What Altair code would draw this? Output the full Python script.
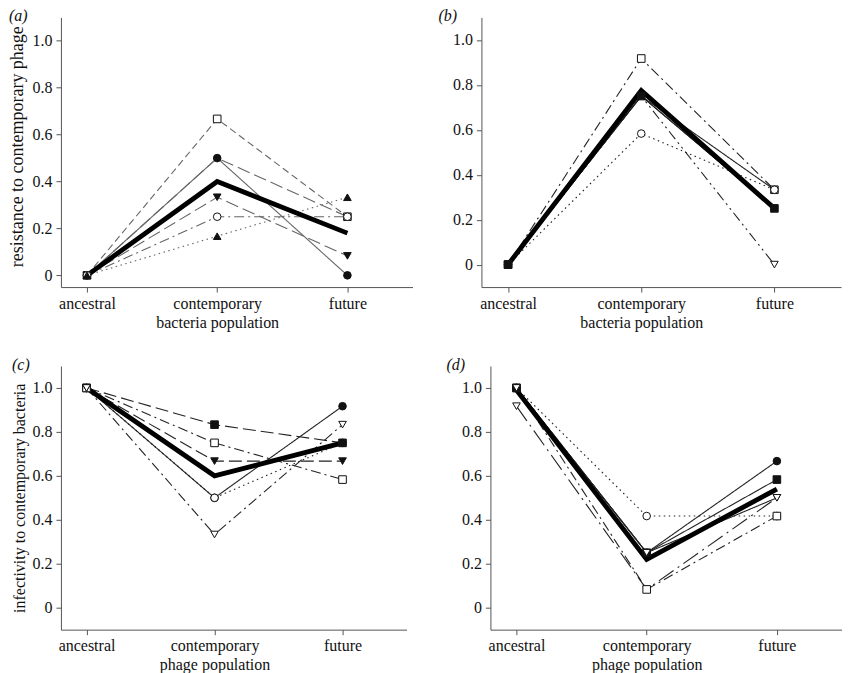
import json
import altair as alt
import pandas as pd

stages = ["ancestral", "contemporary", "future"]
y_ticks = [0, 0.2, 0.4, 0.6, 0.8, 1.0]

# (a) resistance of bacteria to contemporary phage
a_reps = [
    [0.0, 0.667, 0.25],
    [0.0, 0.5, 0.0],
    [0.0, 0.5, 0.25],
    [0.0, 0.333, 0.083],
    [0.0, 0.25, 0.25],
    [0.0, 0.167, 0.333],
]
a_mean = [0.0, 0.40, 0.18]
a_marker = ["square-open", "circle-filled", "none", "tridown-filled", "circle-open", "triup-filled"]
a_dash = ["dashed", "solid", "longdash", "longdash", "dashdot", "dotted"]

# (b)
b_reps = [
    [0.0, 0.917, 0.333],
    [0.0, 0.583, 0.333],
    [0.0, 0.75, 0.0],
    [0.0, 0.75, 0.333],
    [0.0, 0.75, 0.25],
    [0.0, 0.75, 0.25],
]
b_mean = [0.0, 0.775, 0.25]
b_marker = ["square-open", "circle-open", "tridown-open", "none", "none", "square-filled"]
b_dash = ["dashdot", "dotted", "dashdotdot", "solid", "solid", "solid"]

# (c) infectivity of phage to contemporary bacteria
c_reps = [
    [1.0, 0.5, 0.917],
    [1.0, 0.5, 0.75],
    [1.0, 0.833, 0.75],
    [1.0, 0.75, 0.583],
    [1.0, 0.667, 0.667],
    [1.0, 0.333, 0.833],
]
c_mean = [1.0, 0.6, 0.75]
c_marker = ["circle-filled", "circle-open", "square-filled", "square-open", "tridown-filled", "tridown-open"]
c_dash = ["solid", "dotted", "longdash", "dashdot", "heavydash", "dashdot"]

# (d)
d_reps = [
    [1.0, 0.417, 0.417],
    [0.917, 0.083, 0.5],
    [1.0, 0.083, 0.417],
    [1.0, 0.25, 0.667],
    [1.0, 0.25, 0.583],
    [1.0, 0.25, 0.5],
]
d_mean = [0.99, 0.22, 0.54]
d_marker = ["circle-open", "tridown-open", "square-open", "circle-filled", "square-filled", "tridown-open"]
d_dash = ["dotted", "longdashdot", "dashdot", "solid", "solid", "solid"]

DASH = {
    "solid": [1, 0],
    "dashed": [7, 4],
    "longdash": [13, 5],
    "heavydash": [13, 5],
    "dashdot": [10, 4, 2, 4],
    "longdashdot": [18, 5, 2, 5],
    "dashdotdot": [10, 4, 2, 4, 2, 4],
    "dotted": [1.5, 3.5],
}
WIDTH = {k: (2.4 if k == "heavydash" else 1.1) for k in DASH}
SHAPES = {"square": "square", "circle": "circle", "tridown": "triangle-down", "triup": "triangle-up"}

FONT = "'Liberation Serif', 'Times New Roman', 'DejaVu Serif', serif"


def make_panel(reps, mean, markers, dashes, letter, ytitle, ytitle_size, xtitle,
               ydom, W, H, extent, tpad, color, title_y=None):
    rows = []
    for i, vals in enumerate(reps):
        for j, v in enumerate(vals):
            rows.append({"series": f"s{i}", "pos": j, "value": v,
                         "marker": markers[i], "dash": dashes[i]})
    df = pd.DataFrame(rows)
    mdf = pd.DataFrame({"pos": list(range(len(stages))), "value": mean})
    pts = df[df["marker"] != "none"].copy()
    pts["shape"] = pts["marker"].map(lambda m: SHAPES[m.split("-")[0]])
    pts["fillc"] = pts["marker"].map(lambda m: "#111111" if m.endswith("filled") else "white")

    x = alt.X("pos:Q",
              scale=alt.Scale(domain=[-0.2, 2.5], nice=False, zero=False),
              axis=alt.Axis(values=[0, 1, 2],
                            labelExpr=json.dumps(stages) + "[datum.value]",
                            title=xtitle, grid=False, tickSize=5,
                            labelPadding=3, titlePadding=3,
                            labelFlush=False, labelOverlap=False,
                            titleX=W * 1.2 / 2.7))
    yaxis_kw = dict(values=y_ticks,
                    labelExpr="datum.value == 0 ? '0' : format(datum.value, '.1f')",
                    title=ytitle, titleFontSize=ytitle_size, grid=False,
                    tickSize=5, labelPadding=4,
                    minExtent=extent, maxExtent=extent, titlePadding=tpad)
    if title_y is not None:
        yaxis_kw["titleY"] = title_y
    y = alt.Y("value:Q",
              scale=alt.Scale(domain=ydom, nice=False, zero=False),
              axis=alt.Axis(**yaxis_kw))

    lines = alt.Chart(df).mark_line(color=color).encode(
        x=x, y=y, detail="series:N",
        strokeDash=alt.StrokeDash("dash:N", scale=alt.Scale(domain=list(DASH.keys()),
                                                             range=list(DASH.values())),
                                  legend=None),
        strokeWidth=alt.StrokeWidth("dash:N", scale=alt.Scale(domain=list(WIDTH.keys()),
                                                               range=list(WIDTH.values())),
                                    legend=None),
    )
    mean_line = alt.Chart(mdf).mark_line(color="black", strokeWidth=4.8).encode(x=x, y=y)
    points = alt.Chart(pts).mark_point(filled=True, size=58, stroke="#111111",
                                       strokeWidth=1, opacity=1).encode(
        x=x, y=y,
        shape=alt.Shape("shape:N", scale=None),
        fill=alt.Fill("fillc:N", scale=None),
    )
    return alt.layer(lines, mean_line, points).properties(
        width=W, height=H,
        title=alt.TitleParams(letter, anchor="start", frame="bounds", fontSize=16,
                              fontStyle="italic", fontWeight="normal", font=FONT,
                              color="#111111", offset=-7),
    )


pa = make_panel(a_reps, a_mean, a_marker, a_dash, "(a)", "resistance to contemporary phage", 18,
                "bacteria population", [-0.05, 1.1], 352, 270, 30, 4, "#666666", title_y=129)
pb = make_panel(b_reps, b_mean, b_marker, b_dash, "(b)", "", 16,
                "bacteria population", [-0.1, 1.1], 360, 270, 43, 4, "#222222")
pc = make_panel(c_reps, c_mean, c_marker, c_dash, "(c)", "infectivity to contemporary bacteria", 16,
                "phage population", [-0.1, 1.1], 346, 264, 29, 4, "#222222")
pd_ = make_panel(d_reps, d_mean, d_marker, d_dash, "(d)", "", 16,
                 "phage population", [-0.1, 1.1], 352, 264, 44, 4, "#222222")

chart = alt.vconcat(
    alt.hconcat(pa, pb, spacing=26),
    alt.hconcat(pc, pd_, spacing=40),
    spacing=27,
).properties(padding=0).configure_view(stroke=None).configure_axis(
    domainColor="#555555", tickColor="#555555", labelFont=FONT, titleFont=FONT,
    labelFontSize=16, titleFontSize=16, titleFontWeight="normal",
    labelColor="#111111", titleColor="#111111",
)

chart.save("out.html", embed_options={"renderer": "svg", "actions": False})
